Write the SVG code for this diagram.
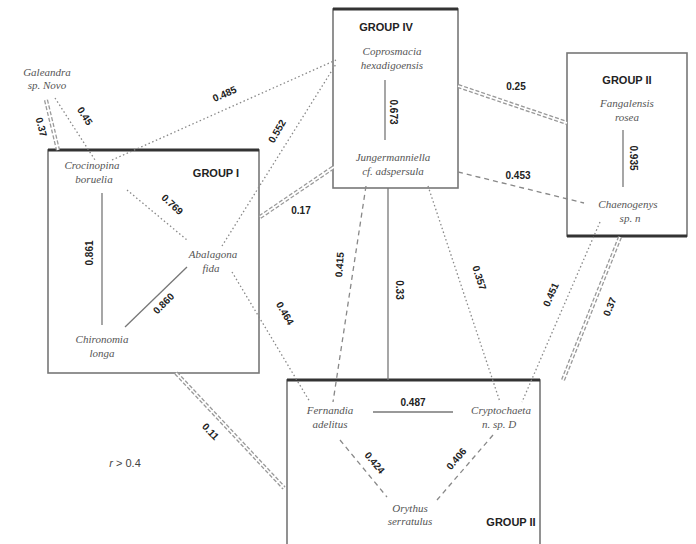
<svg xmlns="http://www.w3.org/2000/svg" width="696" height="544" viewBox="0 0 696 544">
  <style>
    .box { fill: #fff; stroke: #777; stroke-width: 1.6; }
    .edge { stroke: #333; stroke-width: 3; fill: none; }
    .sp { font-family: "Liberation Serif", serif; font-style: italic; font-size: 11px; fill: #555; text-anchor: middle; }
    .grp { font-family: "Liberation Sans", sans-serif; font-weight: bold; font-size: 11px; fill: #222; text-anchor: middle; }
    .val { font-family: "Liberation Sans", sans-serif; font-weight: bold; font-size: 10px; fill: #222; text-anchor: middle; }
    .solid { stroke: #777; stroke-width: 1.3; fill: none; }
    .dot { stroke: #888; stroke-width: 1.3; stroke-dasharray: 1.5 2.5; fill: none; }
    .dash { stroke: #888; stroke-width: 1.3; stroke-dasharray: 5 4; fill: none; }
    .dbl-o { stroke: #999; stroke-width: 4.2; stroke-dasharray: 4 2; fill: none; }
    .dbl-i { stroke: #fff; stroke-width: 1.6; fill: none; }
    .legend { font-family: "Liberation Sans", sans-serif; font-size: 11px; fill: #444; text-anchor: middle; }
  </style>

  <!-- group boxes -->
  <g id="group-iv">
    <rect class="box" x="333" y="9" width="125" height="179"/>
    <line class="edge" x1="333" y1="9" x2="458" y2="9"/>
    <text class="grp" x="386" y="31">GROUP IV</text>
  </g>
  <g id="group-iii">
    <rect class="box" x="567" y="53" width="120" height="183"/>
    <line class="edge" x1="567" y1="236" x2="687" y2="236"/>
    <text class="grp" x="627" y="84">GROUP II</text>
  </g>
  <g id="group-i">
    <rect class="box" x="48" y="150" width="211" height="223"/>
    <line class="edge" x1="48" y1="150" x2="259" y2="150"/>
    <text class="grp" x="216" y="177">GROUP I</text>
  </g>
  <g id="group-ii">
    <rect class="box" x="287" y="380" width="253" height="170"/>
    <line class="edge" x1="287" y1="380" x2="540" y2="380"/>
    <text class="grp" x="511" y="526">GROUP II</text>
  </g>

  <!-- connectors -->
  <g id="connectors">
    <!-- double lines between groups -->
    <path class="dbl-o" d="M46 100 L58 150"/><path class="dbl-i" d="M46 100 L58 150"/>
    <path class="dbl-o" d="M260 217 L334 167"/><path class="dbl-i" d="M260 217 L334 167"/>
    <path class="dbl-o" d="M458 86 L567 123"/><path class="dbl-i" d="M458 86 L567 123"/>
    <path class="dbl-o" d="M620 237 L563 380"/><path class="dbl-i" d="M620 237 L563 380"/>
    <path class="dbl-o" d="M176 373 L284 488"/><path class="dbl-i" d="M176 373 L284 488"/>

    <!-- within-group links -->
    <path class="solid" d="M385 80 L385 140"/>
    <path class="solid" d="M623 130 L623 187"/>
    <path class="solid" d="M102 193 L102 325"/>
    <path class="solid" d="M187 267 L125 327"/>
    <path class="dot" d="M127 190 L187 240"/>
    <path class="solid" d="M373 412 L453 412"/>
    <path class="dash" d="M340 440 L387 497"/>
    <path class="dash" d="M493 435 L437 500"/>

    <!-- between-group links -->
    <path class="dot" d="M55 98 L95 160"/>
    <path class="dot" d="M112 160 L336 60"/>
    <path class="dot" d="M222 246 L336 64"/>
    <path class="dot" d="M232 272 L310 402"/>
    <path class="dash" d="M458 172 L584 203"/>
    <path class="dash" d="M366 186 L333 402"/>
    <path class="solid" d="M388 188 L388 380"/>
    <path class="dot" d="M428 186 L500 402"/>
    <path class="dot" d="M600 222 L522 402"/>
  </g>

  <!-- edge values -->
  <g id="values">
    <text class="val" transform="translate(38 128) rotate(75)">0.37</text>
    <text class="val" transform="translate(82 118) rotate(57)">0.45</text>
    <text class="val" transform="translate(226 97) rotate(-24)">0.485</text>
    <text class="val" transform="translate(170 207) rotate(43)">0.769</text>
    <text class="val" transform="translate(93 253) rotate(-90)">0.861</text>
    <text class="val" transform="translate(166 306) rotate(-45)">0.860</text>
    <text class="val" transform="translate(280 133) rotate(-60)">0.552</text>
    <text class="val" transform="translate(301 214)">0.17</text>
    <text class="val" transform="translate(390 112) rotate(90)">0.673</text>
    <text class="val" transform="translate(516 90)">0.25</text>
    <text class="val" transform="translate(518 179)">0.453</text>
    <text class="val" transform="translate(630 158) rotate(90)">0.935</text>
    <text class="val" transform="translate(282 315) rotate(60)">0.464</text>
    <text class="val" transform="translate(343 265) rotate(-85)">0.415</text>
    <text class="val" transform="translate(396 290) rotate(90)">0.33</text>
    <text class="val" transform="translate(476 279) rotate(72)">0.357</text>
    <text class="val" transform="translate(554 296) rotate(-66)">0.451</text>
    <text class="val" transform="translate(613 308) rotate(-68)">0.37</text>
    <text class="val" transform="translate(208 434) rotate(47)">0.11</text>
    <text class="val" transform="translate(413 406)">0.487</text>
    <text class="val" transform="translate(372 465) rotate(50)">0.424</text>
    <text class="val" transform="translate(459 461) rotate(-50)">0.406</text>
  </g>

  <!-- species -->
  <g id="galeandra">
    <text class="sp" x="47" y="76">Galeandra</text>
    <text class="sp" x="47" y="89">sp. Novo</text>
  </g>
  <g id="coprosmacia">
    <text class="sp" x="392" y="55">Coprosmacia</text>
    <text class="sp" x="392" y="69">hexadigoensis</text>
  </g>
  <g id="jungermannia">
    <text class="sp" x="393" y="161">Jungermanniella</text>
    <text class="sp" x="393" y="175">cf. adspersula</text>
  </g>
  <g id="fangalensis">
    <text class="sp" x="627" y="107">Fangalensis</text>
    <text class="sp" x="627" y="121">rosea</text>
  </g>
  <g id="chaenogenys">
    <text class="sp" x="628" y="208">Chaenogenys</text>
    <text class="sp" x="630" y="222">sp. n</text>
  </g>
  <g id="crocinopina">
    <text class="sp" x="92" y="169">Crocinopina</text>
    <text class="sp" x="94" y="183">boruelia</text>
  </g>
  <g id="abalagona">
    <text class="sp" x="213" y="258">Abalagona</text>
    <text class="sp" x="211" y="272">fida</text>
  </g>
  <g id="chironomia">
    <text class="sp" x="102" y="343">Chironomia</text>
    <text class="sp" x="102" y="357">longa</text>
  </g>
  <g id="fernandia">
    <text class="sp" x="330" y="414">Fernandia</text>
    <text class="sp" x="330" y="428">adelitus</text>
  </g>
  <g id="cryptochaeta">
    <text class="sp" x="501" y="414">Cryptochaeta</text>
    <text class="sp" x="499" y="428">n. sp. D</text>
  </g>
  <g id="orythus">
    <text class="sp" x="410" y="512">Orythus</text>
    <text class="sp" x="410" y="525">serratulus</text>
  </g>

  <text class="legend" x="125" y="467"><tspan font-style="italic">r</tspan> &gt; 0.4</text>
</svg>
